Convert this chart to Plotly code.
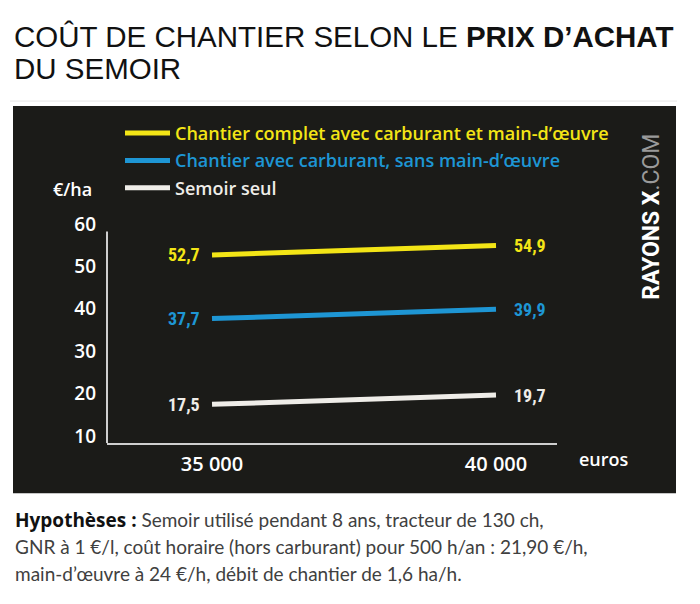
import plotly.graph_objects as go

# ---- data ----
prix_achat = [35000, 40000]
prix_labels = ["35 000", "40 000"]
series_names = [
    "Chantier complet avec carburant et main-d’œuvre",
    "Chantier avec carburant, sans main-d’œuvre",
    "Semoir seul",
]
complet = [52.7, 54.9]
sans_mo = [37.7, 39.9]
semoir = [17.5, 19.7]
y_ticks = [10, 20, 30, 40, 50, 60]

colors = ["#f3e516", "#1e96d4", "#efede8"]
series_vals = [complet, sans_mo, semoir]

W, H = 700, 604
def px(x):
    return x / W
def py(y):
    return 1 - y / H

LABEL_FONT = "Liberation Sans Narrow, Roboto Condensed, Arial Narrow, DejaVu Sans Condensed, sans-serif"
TITLE_FONT = "Liberation Sans, Arial, sans-serif"
UI_FONT = "Open Sans, Inter, sans-serif"

fig = go.Figure()
for name, vals, col in zip(series_names, series_vals, colors):
    fig.add_trace(go.Scatter(
        x=prix_achat, y=vals, mode="lines",
        name=f"<span style='color:{col}'>{name}</span>",
        line=dict(color=col, width=5),
        legendgroup=name,
        hoverinfo="skip",
    ))

annotations = []
# value labels
for vals, col in zip(series_vals, colors):
    annotations.append(dict(x=prix_achat[0], y=vals[0], xref="x", yref="y",
                            text=f"{vals[0]:.1f}".replace(".", ","), showarrow=False,
                            xanchor="right", xshift=-10,
                            font=dict(family=LABEL_FONT, size=18, color=col, weight="bold")))
    annotations.append(dict(x=prix_achat[-1], y=vals[-1], xref="x", yref="y",
                            text=f"{vals[-1]:.1f}".replace(".", ","), showarrow=False,
                            xanchor="left", xshift=16,
                            font=dict(family=LABEL_FONT, size=18, color=col, weight="bold")))

# title
annotations.append(dict(x=px(12), y=py(31), xref="paper", yref="paper", xanchor="left", yanchor="middle",
                        text="COÛT DE CHANTIER SELON LE <b>PRIX D’ACHAT</b>", showarrow=False,
                        font=dict(family=TITLE_FONT, size=29.5, color="#111111")))
annotations.append(dict(x=px(12), y=py(64), xref="paper", yref="paper", xanchor="left", yanchor="middle",
                        text="DU SEMOIR", showarrow=False,
                        font=dict(family=TITLE_FONT, size=29.5, color="#111111")))
# units
annotations.append(dict(x=px(94), y=py(187), xref="paper", yref="paper", xanchor="right", yanchor="middle",
                        text="€/ha", showarrow=False,
                        font=dict(family=UI_FONT, size=18, color="#ffffff", weight=600)))
annotations.append(dict(x=px(577), y=py(462), xref="paper", yref="paper", xanchor="left", yanchor="middle",
                        text="euros", showarrow=False,
                        font=dict(family=UI_FONT, size=18, color="#ffffff", weight=600)))
# brand
annotations.append(dict(x=px(652), y=py(215), xref="paper", yref="paper", xanchor="center", yanchor="middle",
                        text="<b>RAYONS X</b><span style='color:#9a9a9a'>.COM</span>", showarrow=False,
                        textangle=-90,
                        font=dict(family="Roboto, sans-serif", size=23, color="#ffffff")))
# footer
foot = [
    "<span style='font-family:Open Sans;font-weight:700;color:#111111'>Hypothèses :</span> Semoir utilisé pendant 8 ans, tracteur de 130 ch,",
    "GNR à 1 €/l, coût horaire (hors carburant) pour 500 h/an : 21,90 €/h,",
    "main-d’œuvre à 24 €/h, débit de chantier de 1,6 ha/h.",
]
for i, t in enumerate(foot):
    annotations.append(dict(x=px(13), y=py(524 + 27.5 * i), xref="paper", yref="paper",
                            xanchor="left", yanchor="middle", text=t, showarrow=False,
                            font=dict(family="Lato, sans-serif", size=19, color="#404040")))

shapes = [
    dict(type="rect", xref="paper", yref="paper", x0=px(13), x1=px(676), y0=py(497), y1=py(102),
         fillcolor="#1b1b18", line=dict(width=0), layer="below"),
    dict(type="line", xref="paper", yref="paper", x0=px(10), x1=px(677), y0=py(97), y1=py(97),
         line=dict(color="#e6e6e6", width=1)),
    dict(type="line", xref="x domain", yref="y", x0=0, x1=0, y0=8.36, y1=58.2,
         line=dict(color="#cfcfcf", width=2)),
]

fig.update_layout(
    width=W, height=H,
    margin=dict(l=0, r=0, t=0, b=0),
    paper_bgcolor="#ffffff",
    plot_bgcolor="rgba(0,0,0,0)",
    showlegend=True,
    legend=dict(x=px(120), y=py(111), xanchor="left", yanchor="top",
                bgcolor="rgba(0,0,0,0)", traceorder="grouped", tracegroupgap=1,
                font=dict(family=UI_FONT, size=18, color="#ffffff", weight=600),
                itemwidth=45),
    xaxis=dict(domain=[px(107), px(557)], range=[33151, 41074],
               tickvals=prix_achat, ticktext=prix_labels,
               showgrid=False, zeroline=False, showline=True, linecolor="#cfcfcf", linewidth=2,
               ticks="", ticklabelstandoff=2,
               tickfont=dict(family=UI_FONT, size=20, color="#ffffff", weight=600)),
    yaxis=dict(domain=[1 - 446 / H, 1 - 215 / H], range=[8.36, 61.7],
               tickvals=y_ticks, showgrid=False, zeroline=False, showline=False,
               ticks="", ticklabelstandoff=10,
               tickfont=dict(family=UI_FONT, size=19, color="#ffffff", weight=600)),
    annotations=annotations,
    shapes=shapes,
)

fig.write_html("out.html", config={"displayModeBar": False},
               post_script="document.body.style.margin='0';")
